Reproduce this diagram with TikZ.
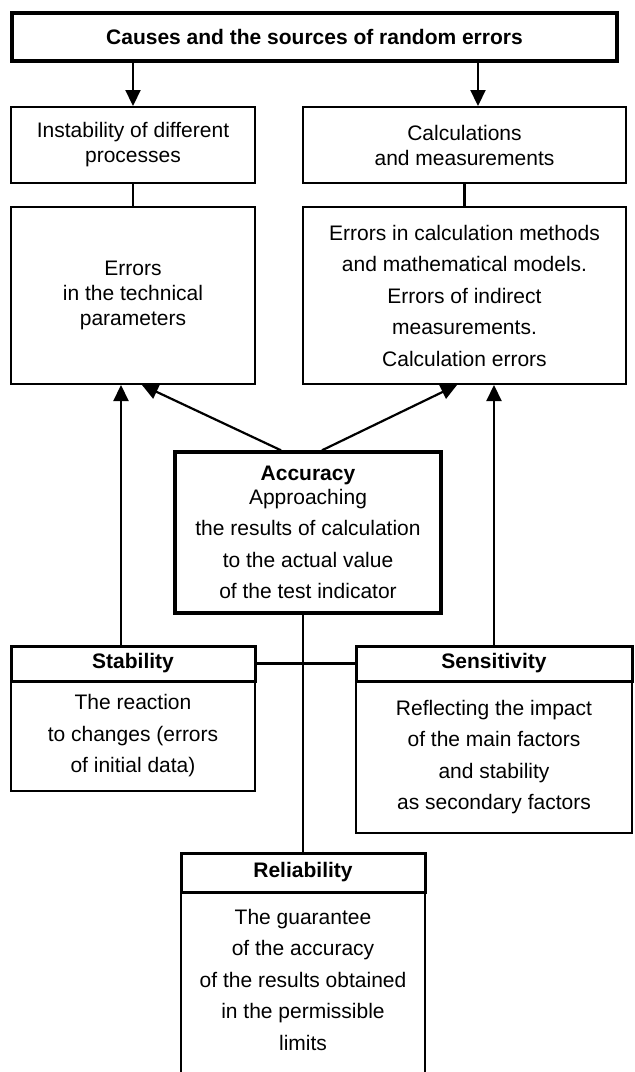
\documentclass[tikz,border=0pt]{standalone}
\usepackage{fontspec}
\setmainfont{Liberation Sans}
\usetikzlibrary{arrows.meta,positioning}

\begin{document}
\begin{tikzpicture}[x=1pt,y=-1pt]
                    \tikzstyle{every node}+=[inner sep=0pt, align=center, font=\fontsize{21}{25}\selectfont]
                    \tikzstyle{thinbox}=[draw, line width=2pt]
                    \tikzstyle{thickbox}=[draw, line width=3.4pt]
                    \tikzstyle{spaced}=[font=\fontsize{21}{31.5}\selectfont]
                    \tikzstyle{link}=[line width=2.2pt]
                    \tikzstyle{arr}=[line width=2.2pt, -{Triangle[length=16pt,width=15pt]}]
                    \clip (0,0) rectangle (635,1072);
                    % sources
                    \node [thickbox, line width=4pt, minimum width=605, minimum height=48] (top) at (314.5,37) {\textbf{Causes and the sources of random errors}};
                    \node [thinbox, minimum width=244, minimum height=76] (inst) at (133,145) {Instability of different\\processes};
                    \node [thinbox, minimum width=323, minimum height=76] (calc) at (464.5,145) {Calculations\\and measurements};
                    \node [thinbox, minimum width=244, minimum height=177] (techerr) at (133,295.5) {Errors\\in the technical\\parameters};
                    \node [thinbox, spaced, minimum width=323, minimum height=177] (calcerr) at (464.5,295.5) {Errors in calculation methods\\and mathematical models.\\Errors of indirect\\measurements.\\Calculation errors};
                    % properties
                    \node [thickbox, spaced, minimum width=266, minimum height=161] (acc) at (308,532.5) {\textbf{Accuracy}\\[-8pt]Approaching\\the results of calculation\\to the actual value\\of the test indicator};
                    \node [thinbox, spaced, minimum width=244, minimum height=110] (stabbody) at (133,736) {The reaction\\to changes (errors\\of initial data)};
                    \node [thickbox, line width=3pt, minimum width=244, minimum height=35] (stabhead) at (133,663.5) {\textbf{Stability}};
                    \node [thinbox, spaced, minimum width=276, minimum height=152] (sensbody) at (494,757) {Reflecting the impact\\of the main factors\\and stability\\as secondary factors};
                    \node [thickbox, line width=3pt, minimum width=276, minimum height=35] (senshead) at (494,663.5) {\textbf{Sensitivity}};
                    \node [thinbox, minimum width=244, minimum height=218] (relbody) at (303,1001) {};
                    \node [thickbox, line width=3pt, minimum width=244, minimum height=39] (relhead) at (303,872.5) {\textbf{Reliability}};
                    \node [spaced, anchor=north] (reltext) at (303,909) {The guarantee\\of the accuracy\\of the results obtained\\in the permissible\\limits};
                    % connectors
                    \coordinate (calcin) at ([xshift=13.5pt]calc.north);
                    \coordinate (stabup) at ([xshift=-12pt]stabhead.north);
                    \coordinate (accl) at ([xshift=-27pt]acc.north);
                    \coordinate (accr) at ([xshift=14pt]acc.north);
                    \draw [arr] (top.south -| inst.north) -- (inst.north);
                    \draw [arr] (top.south -| calcin) -- (calcin);
                    \draw [link] (inst.south) -- (techerr.north);
                    \draw [link] (calc.south) -- (calcerr.north);
                    \draw [arr] (stabup) -- (stabup |- techerr.south);
                    \draw [arr] (senshead.north) -- (senshead.north |- calcerr.south);
                    \draw [arr] (accl) -- ([xshift=9pt]techerr.south);
                    \draw [arr] (accr) -- ([xshift=-7.5pt]calcerr.south);
                    \draw [link] (stabhead.east) -- (senshead.west);
                    \draw [link] (relhead.north) -- (relhead.north |- acc.south);
                \end{tikzpicture}
\end{document}
